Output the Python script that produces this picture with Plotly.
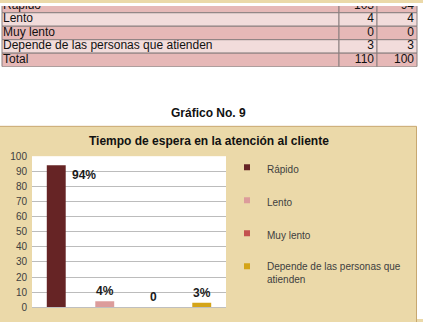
import plotly.graph_objects as go

# ---------------- data ----------------
table_labels = ["Rápido", "Lento", "Muy lento", "Depende de las personas que atienden", "Total"]
table_freq = [103, 4, 0, 3, 110]
table_pct = [94, 4, 0, 3, 100]

categories = ["Rápido", "Lento", "Muy lento", "Depende de las personas que atienden"]
values = [94, 4, 0, 3]
value_labels = ["94%", "4%", "0", "3%"]
legend_names = ["Rápido", "Lento", "Muy lento", "Depende de las personas que<br>atienden"]
y_ticks = list(range(0, 101, 10))

# ---------------- style ----------------
W, H = 423, 322
bar_colors = ["#662425", "#dc9c9b", "#c4524f", "#d4a418"]
row_fills = ["#e6b8b7", "#f2dcdb", "#e6b8b7", "#f2dcdb", "#e6b8b7"]
paper_tan = "#ebd9a9"
col_edges = [2, 339, 377, 417]
FONT = "Liberation Sans"

fig = go.Figure()

# ---------------- table (subplot x2/y2) ----------------
rows = list(range(len(table_labels)))
for c in range(3):
    fig.add_trace(go.Bar(
        orientation="h", y=rows, x=[col_edges[c + 1] - col_edges[c]] * len(rows),
        base=[col_edges[c]] * len(rows), width=1,
        marker=dict(color=row_fills, line=dict(color="#8a7f7f", width=1)),
        xaxis="x2", yaxis="y2", showlegend=False, hoverinfo="skip"))
fig.add_trace(go.Scatter(
    x=[col_edges[0] + 1] * len(rows), y=rows, mode="text", text=table_labels,
    textposition="middle right", textfont=dict(family=FONT, size=12, color="#111"),
    xaxis="x2", yaxis="y2", showlegend=False, hoverinfo="skip", cliponaxis=True))
fig.add_trace(go.Scatter(
    x=[col_edges[2] - 3] * len(rows), y=rows, mode="text", text=[str(v) for v in table_freq],
    textposition="middle left", textfont=dict(family=FONT, size=12, color="#111"),
    xaxis="x2", yaxis="y2", showlegend=False, hoverinfo="skip", cliponaxis=True))
fig.add_trace(go.Scatter(
    x=[col_edges[3] - 3] * len(rows), y=rows, mode="text", text=[str(v) for v in table_pct],
    textposition="middle left", textfont=dict(family=FONT, size=12, color="#111"),
    xaxis="x2", yaxis="y2", showlegend=False, hoverinfo="skip", cliponaxis=True))

# ---------------- bar chart ----------------
for i, cat in enumerate(categories):
    fig.add_trace(go.Bar(
        x=[cat], y=[values[i]], name=legend_names[i],
        marker=dict(color=bar_colors[i], line=dict(width=0)),
        showlegend=False, hoverinfo="skip"))
    # legend proxy with small square symbol
    fig.add_trace(go.Scatter(
        x=[None], y=[None], mode="markers", name=legend_names[i],
        legendgroup=f"g{i}",
        marker=dict(symbol="square", size=6, color=bar_colors[i])))

annotations = []
for i, cat in enumerate(categories):
    if values[i] > 85:
        annotations.append(dict(x=cat, y=values[i], xref="x", yref="y", text=f"<b>{value_labels[i]}</b>",
                                showarrow=False, xshift=28, yshift=-10,
                                font=dict(family=FONT, size=12, color="#1a1a1a")))
    else:
        annotations.append(dict(x=cat, y=values[i], xref="x", yref="y", text=f"<b>{value_labels[i]}</b>",
                                showarrow=False, yshift=10,
                                font=dict(family=FONT, size=12, color="#1a1a1a")))

annotations.append(dict(x=208 / W, y=(H - 102) / H, xref="paper", yref="paper",
                        text="<b>Gráfico No. 9</b>", showarrow=False,
                        font=dict(family=FONT, size=12, color="#111")))
annotations.append(dict(x=209 / W, y=(H - 140) / H, xref="paper", yref="paper",
                        text="<b>Tiempo de espera en la atención al cliente</b>", showarrow=False,
                        font=dict(family=FONT, size=12, color="#111")))

box_top = (H - 125) / H
shapes = [
    dict(type="rect", xref="paper", yref="paper", x0=0, x1=1, y0=box_top, y1=1.01,
         fillcolor="white", line=dict(width=0), layer="below"),
    dict(type="rect", xref="paper", yref="paper", x0=416.5 / W, x1=1.01, y0=-0.01, y1=1.01,
         fillcolor="white", line=dict(width=0), layer="below"),
    dict(type="rect", xref="paper", yref="paper", x0=-0.01, x1=416.5 / W, y0=-0.05, y1=box_top,
         fillcolor="rgba(0,0,0,0)", line=dict(color="#c8a870", width=1), layer="below"),
]

fig.update_layout(
    width=W, height=H, margin=dict(l=0, r=0, t=0, b=0),
    paper_bgcolor=paper_tan, plot_bgcolor="white",
    barmode="overlay", bargap=0.61,
    showlegend=True,
    legend=dict(x=227 / W, xanchor="left", y=(H - 154) / H, yanchor="top",
                font=dict(family=FONT, size=10, color="#404040"),
                bgcolor="rgba(0,0,0,0)", traceorder="grouped", tracegroupgap=14,
                valign="top"),
    xaxis=dict(domain=[32 / W, 226 / W], showticklabels=False, ticks="",
               showgrid=False, zeroline=False, showline=True, linecolor="#bfbfbf",
               categoryorder="array", categoryarray=categories, range=[-0.5, 3.5]),
    yaxis=dict(domain=[9 / H, 166 / H], range=[0, 100], tickvals=y_ticks,
               showgrid=True, gridcolor="#bcbcbc", gridwidth=1, zeroline=False,
               showline=False, ticks="", ticklabelstandoff=4,
               tickfont=dict(family=FONT, size=10, color="#404040")),
    xaxis2=dict(domain=[0, 1], range=[0, W], visible=False, anchor="y2"),
    yaxis2=dict(domain=[(H - 63) / H, 1], range=[4.5, 0], visible=False, anchor="x2"),
    annotations=annotations, shapes=shapes,
)

fig.write_html("out.html")
